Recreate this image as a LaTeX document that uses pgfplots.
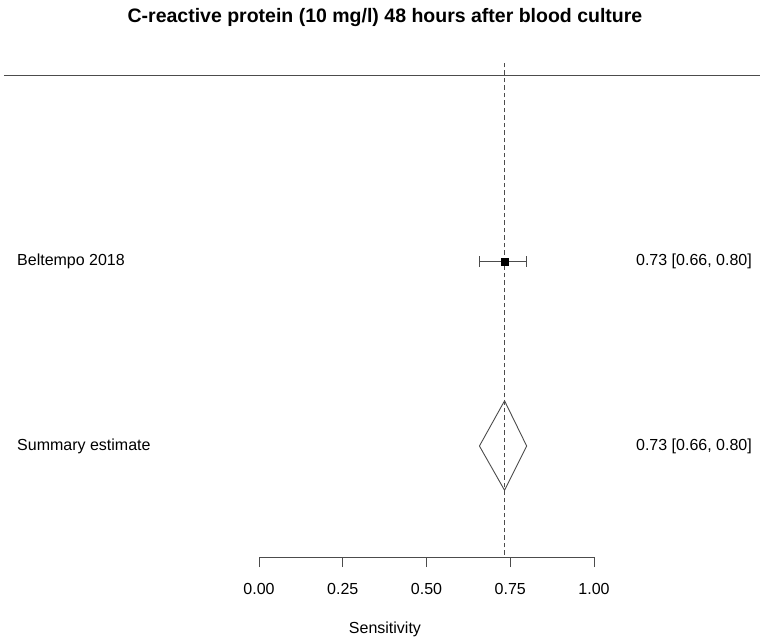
\documentclass[border=0pt]{standalone}
\usepackage{fontspec}
\setmainfont{Liberation Sans}
\usepackage{pgfplots}
\pgfplotsset{compat=1.18}
\definecolor{ln}{gray}{0.3}

\begin{document}
\begin{tikzpicture}[x=1pt,y=1pt,
    lab/.style={inner sep=0pt, font=\fontsize{16}{19}\selectfont}]
\useasboundingbox (0,0) rectangle (760,640);
% forest panel: x in sensitivity units, y in rows (study 1, summary -1)
\begin{axis}[at={(0,0)}, anchor=south west, scale only axis,
    width=760pt, height=640pt, hide axis, clip=false,
    xmin=-0.7731, xmax=1.4955, ymin=-3.103, ymax=3.835]
  % header line
  \addplot[ln, line width=1pt] coordinates {(-0.7612,3.02) (1.4955,3.02)};
  % reference line at summary estimate
  \addplot[ln, line width=1pt, dash pattern=on 4.5pt off 3pt]
    coordinates {(0.733,-2.18) (0.733,3.17)};
  % study estimate with CI
  \addplot[black, mark=square*, mark size=3.8pt, only marks,
    error bars/.cd, x dir=both, x explicit,
    error bar style={ln, line width=1pt},
    error mark options={ln, line width=1pt, rotate=90, mark size=5.5pt}]
    coordinates {(0.733,1) += (0.066,0) -= (0.075,0)};
  % summary diamond
  \addplot[ln, line width=0.9pt] coordinates
    {(0.658,-1) (0.733,-0.51) (0.799,-1) (0.733,-1.48) (0.658,-1)};
  % labels
  \node[lab, anchor=west] at (axis cs:-0.7224,1) {Beltempo 2018};
  \node[lab, anchor=west] at (axis cs:-0.7224,-1) {Summary estimate};
  \node[lab, anchor=east] at (axis cs:1.4716,1) {0.73 [0.66, 0.80]};
  \node[lab, anchor=east] at (axis cs:1.4716,-1) {0.73 [0.66, 0.80]};
  \node[inner sep=0pt, font=\bfseries\fontsize{19.5}{23}\selectfont]
    at (axis cs:0.376,3.64)
    {C-reactive protein (10 mg/l) 48 hours after blood culture};
  \node[lab] at (axis cs:0.376,-2.985) {Sensitivity};
\end{axis}
% x axis
\begin{axis}[at={(259pt,83pt)}, anchor=south west, scale only axis,
    width=335pt, height=20pt, xmin=0, xmax=1, ymin=0, ymax=1,
    axis x line*=bottom, axis y line=none,
    xtick={0,0.25,0.5,0.75,1}, tick align=outside, major tick length=10pt,
    every tick/.style={ln, line width=1pt},
    x axis line style={ln, line width=1pt, -},
    /pgf/number format/.cd, fixed, fixed zerofill, precision=2,
      assume math mode=true, /pgfplots/.cd,
    xticklabel style={font=\fontsize{16}{19}\selectfont, anchor=center,
      yshift=-22pt, inner sep=0pt}]
  \addplot[draw=none] coordinates {(0.5,0.5)};
\end{axis}
\end{tikzpicture}
\end{document}
